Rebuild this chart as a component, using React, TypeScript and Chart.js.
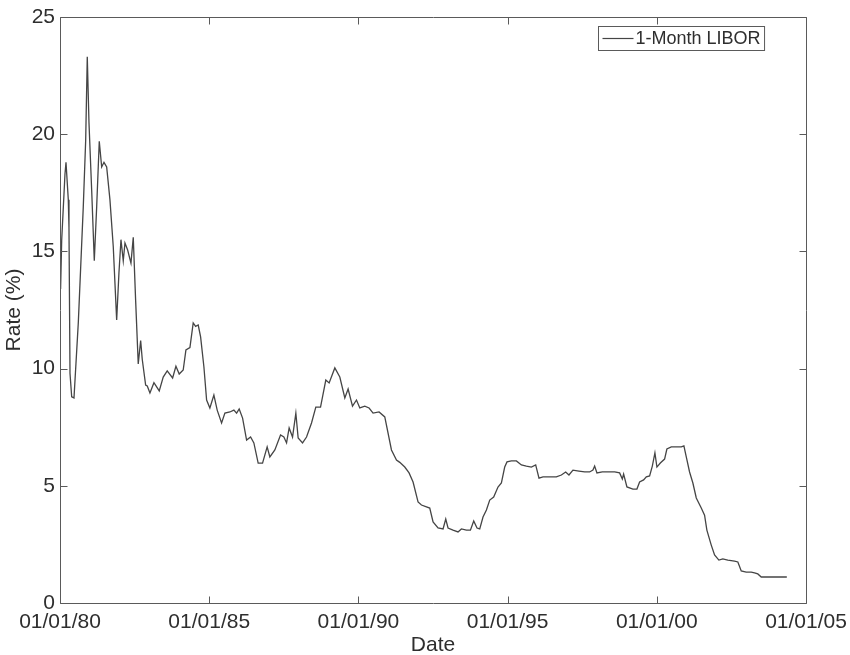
import React, { useEffect, useRef } from "react";
import { Chart, registerables } from "chart.js";

Chart.register(...registerables);

const SERIES_LABEL = "1-Month LIBOR";
const X_TITLE = "Date";
const Y_TITLE = "Rate (%)";

const dates: number[] = [
  1980.0, 1980.02, 1980.057, 1980.167, 1980.201, 1980.278, 1980.301, 1980.335, 1980.392, 1980.469,
  1980.613, 1980.78, 1980.861, 1980.914, 1980.971, 1981.062, 1981.149, 1981.229, 1981.316, 1981.397,
  1981.474, 1981.564, 1981.674, 1981.785, 1981.899, 1981.976, 1982.043, 1982.12, 1982.177, 1982.267,
  1982.378, 1982.455, 1982.535, 1982.622, 1982.703, 1982.756, 1982.87, 1982.924, 1983.014, 1983.148,
  1983.326, 1983.459, 1983.593, 1983.774, 1983.885, 1983.995, 1984.129, 1984.22, 1984.354, 1984.464,
  1984.545, 1984.632, 1984.712, 1984.823, 1984.913, 1985.023, 1985.157, 1985.268, 1985.415, 1985.526,
  1985.693, 1985.827, 1985.918, 1986.005, 1986.119, 1986.253, 1986.387, 1986.497, 1986.641, 1986.788,
  1986.942, 1987.033, 1987.2, 1987.391, 1987.502, 1987.592, 1987.679, 1987.793, 1987.904, 1987.981,
  1988.128, 1988.262, 1988.429, 1988.573, 1988.731, 1988.908, 1989.019, 1989.21, 1989.377, 1989.545,
  1989.655, 1989.802, 1989.936, 1990.047, 1990.214, 1990.358, 1990.492, 1990.693, 1990.884, 1991.108,
  1991.276, 1991.386, 1991.554, 1991.698, 1991.832, 1991.999, 1992.113, 1992.281, 1992.391, 1992.502,
  1992.669, 1992.837, 1992.927, 1993.004, 1993.171, 1993.339, 1993.452, 1993.62, 1993.754, 1993.865,
  1993.975, 1994.066, 1994.176, 1994.29, 1994.401, 1994.534, 1994.678, 1994.792, 1994.903, 1994.98,
  1995.127, 1995.295, 1995.462, 1995.63, 1995.797, 1995.941, 1996.052, 1996.186, 1996.41, 1996.634,
  1996.802, 1996.946, 1997.056, 1997.19, 1997.391, 1997.582, 1997.749, 1997.86, 1997.917, 1997.994,
  1998.175, 1998.362, 1998.587, 1998.754, 1998.845, 1998.888, 1998.999, 1999.2, 1999.334, 1999.424,
  1999.558, 1999.649, 1999.759, 1999.85, 1999.937, 2000.004, 2000.118, 2000.261, 2000.338, 2000.486,
  2000.653, 2000.821, 2000.908, 2000.988, 2001.098, 2001.209, 2001.323, 2001.49, 2001.601, 2001.678,
  2001.825, 2001.936, 2002.08, 2002.213, 2002.381, 2002.605, 2002.716, 2002.83, 2002.997, 2003.165,
  2003.275, 2003.385, 2003.5, 2003.721, 2003.888, 2004.002, 2004.169, 2004.357,
];

const rates: number[] = [
  14.6, 13.4, 15.5, 18.3, 18.8, 17.2, 16.0, 9.8, 8.8, 8.75,
  11.95, 16.9, 19.75, 23.3, 20.5, 17.6, 14.6, 16.9, 19.7, 18.6,
  18.8, 18.6, 17.2, 15.2, 12.07, 14.1, 15.5, 14.6, 15.36, 15.06,
  14.5, 15.6, 12.9, 10.2, 11.2, 10.4, 9.3, 9.26, 8.96, 9.4,
  9.05, 9.64, 9.9, 9.6, 10.1, 9.77, 9.94, 10.8, 10.9, 11.95,
  11.8, 11.86, 11.35, 10.07, 8.66, 8.32, 8.87, 8.23, 7.68, 8.1,
  8.15, 8.23, 8.1, 8.28, 7.89, 6.95, 7.08, 6.83, 5.97, 5.97,
  6.66, 6.23, 6.53, 7.17, 7.08, 6.83, 7.47, 7.08, 8.1, 7.04,
  6.83, 7.08, 7.68, 8.36, 8.36, 9.51, 9.39, 10.03, 9.64, 8.75,
  9.13, 8.4, 8.66, 8.32, 8.4, 8.32, 8.1, 8.15, 7.94, 6.53,
  6.1, 6.0, 5.8, 5.55, 5.16, 4.31, 4.18, 4.1, 4.05, 3.46,
  3.2, 3.16, 3.58, 3.2, 3.11, 3.03, 3.16, 3.11, 3.11, 3.5,
  3.2, 3.16, 3.67, 3.97, 4.39, 4.52, 4.95, 5.12, 5.8, 6.02,
  6.06, 6.06, 5.89, 5.84, 5.8, 5.89, 5.33, 5.38, 5.38, 5.38,
  5.46, 5.59, 5.46, 5.67, 5.63, 5.59, 5.59, 5.67, 5.84, 5.55,
  5.59, 5.59, 5.59, 5.55, 5.29, 5.5, 4.95, 4.86, 4.86, 5.16,
  5.25, 5.38, 5.42, 5.84, 6.4, 5.8, 5.97, 6.14, 6.57, 6.66,
  6.66, 6.66, 6.7, 6.23, 5.59, 5.12, 4.48, 4.05, 3.75, 3.11,
  2.47, 2.05, 1.83, 1.88, 1.83, 1.79, 1.75, 1.37, 1.32, 1.32,
  1.28, 1.24, 1.11, 1.11, 1.11, 1.11, 1.11, 1.11,
];

const X_MIN = 1980;
const X_MAX = 2005;
const X_STEP = 5;
const Y_MIN = 0;
const Y_MAX = 25;
const Y_STEP = 5;

const FONT = "'Liberation Sans', Arial, Helvetica, sans-serif";
const TEXT_COLOR = "#2e2e2e";
const AXIS_COLOR = "#5a5a5a";
const LINE_COLOR = "#454545";

const xTickLabel = (v: number) => "01/01/" + String(v).slice(2);

const framePlugin = {
  id: "matlabFrame",
  afterDraw(chart: any) {
    const { ctx, chartArea: a, scales } = chart;
    const L = Math.round(a.left) + 0.5;
    const R = Math.round(a.right) + 0.5;
    const T = Math.round(a.top) + 0.5;
    const B = Math.round(a.bottom) + 0.5;
    const tick = 7;
    ctx.save();
    ctx.strokeStyle = AXIS_COLOR;
    ctx.lineWidth = 1;
    ctx.beginPath();
    ctx.rect(L, T, R - L, B - T);
    scales.x.ticks.forEach((t: any) => {
      const px = Math.round(scales.x.getPixelForValue(t.value)) + 0.5;
      ctx.moveTo(px, B);
      ctx.lineTo(px, B - tick);
      ctx.moveTo(px, T);
      ctx.lineTo(px, T + tick);
    });
    scales.y.ticks.forEach((t: any) => {
      const py = Math.round(scales.y.getPixelForValue(t.value)) + 0.5;
      ctx.moveTo(L, py);
      ctx.lineTo(L + tick, py);
      ctx.moveTo(R, py);
      ctx.lineTo(R - tick, py);
    });
    ctx.stroke();

    // legend box (MATLAB style, inside the axes, north-east)
    const ds = chart.data.datasets[0];
    const fontSize = 18;
    ctx.font = `${fontSize}px ${FONT}`;
    const textW = ctx.measureText(ds.label).width;
    const sample = 31;
    const boxW = 4 + sample + 2 + textW + 4;
    const boxH = 24;
    const bx = Math.round(a.right - 42 - boxW) + 0.5;
    const by = Math.round(a.top + 9) + 0.5;
    ctx.fillStyle = "#ffffff";
    ctx.fillRect(bx, by, boxW, boxH);
    ctx.strokeStyle = AXIS_COLOR;
    ctx.strokeRect(bx, by, boxW, boxH);
    ctx.beginPath();
    ctx.strokeStyle = ds.borderColor;
    ctx.lineWidth = 1.2;
    ctx.moveTo(bx + 4, by + boxH / 2);
    ctx.lineTo(bx + 4 + sample, by + boxH / 2);
    ctx.stroke();
    ctx.fillStyle = TEXT_COLOR;
    ctx.textBaseline = "middle";
    ctx.textAlign = "left";
    ctx.fillText(ds.label, bx + 4 + sample + 2, by + boxH / 2 + 1);
    ctx.restore();
  },
};

export default function App() {
  const ref = useRef<HTMLCanvasElement | null>(null);

  useEffect(() => {
    if (!ref.current) return;
    const points = dates.map((d, i) => ({ x: d, y: rates[i] }));
    const chart = new Chart(ref.current, {
      type: "line",
      data: {
        datasets: [
          {
            label: SERIES_LABEL,
            data: points,
            borderColor: LINE_COLOR,
            borderWidth: 1.3,
            pointRadius: 0,
            tension: 0,
            fill: false,
          },
        ],
      },
      options: {
        animation: false,
        responsive: false,
        parsing: false as any,
        layout: { padding: { top: 17, right: 44, left: 0, bottom: 0 } },
        plugins: {
          legend: { display: false },
          tooltip: { enabled: false },
        },
        scales: {
          x: {
            type: "linear",
            min: X_MIN,
            max: X_MAX,
            afterFit: (s: any) => {
              s.height = 52;
              s.paddingLeft = 0;
              s.paddingRight = 0;
            },
            ticks: {
              stepSize: X_STEP,
              callback: (v: any) => xTickLabel(Number(v)),
              color: TEXT_COLOR,
              font: { family: FONT, size: 21 },
              padding: 7,
              maxRotation: 0,
              autoSkip: false,
            },
            grid: { display: false, drawTicks: false },
            border: { display: false },
            title: {
              display: true,
              text: X_TITLE,
              color: TEXT_COLOR,
              font: { family: FONT, size: 21 },
              padding: { top: 0, bottom: -3 },
            },
          },
          y: {
            type: "linear",
            min: Y_MIN,
            max: Y_MAX,
            afterFit: (s: any) => {
              s.width = 60;
              s.paddingTop = 0;
              s.paddingBottom = 0;
            },
            ticks: {
              stepSize: Y_STEP,
              color: TEXT_COLOR,
              font: { family: FONT, size: 21 },
              padding: 5,
            },
            grid: { display: false, drawTicks: false },
            border: { display: false },
            title: {
              display: true,
              text: Y_TITLE,
              color: TEXT_COLOR,
              font: { family: FONT, size: 21 },
              padding: 2,
            },
          },
        },
      },
      plugins: [framePlugin],
    });
    return () => chart.destroy();
  }, []);

  return (
    <div style={{ position: "fixed", left: 0, top: 0, width: 850, height: 655, background: "#fff" }}>
      <canvas ref={ref} width={850} height={655} style={{ display: "block" }} />
    </div>
  );
}
